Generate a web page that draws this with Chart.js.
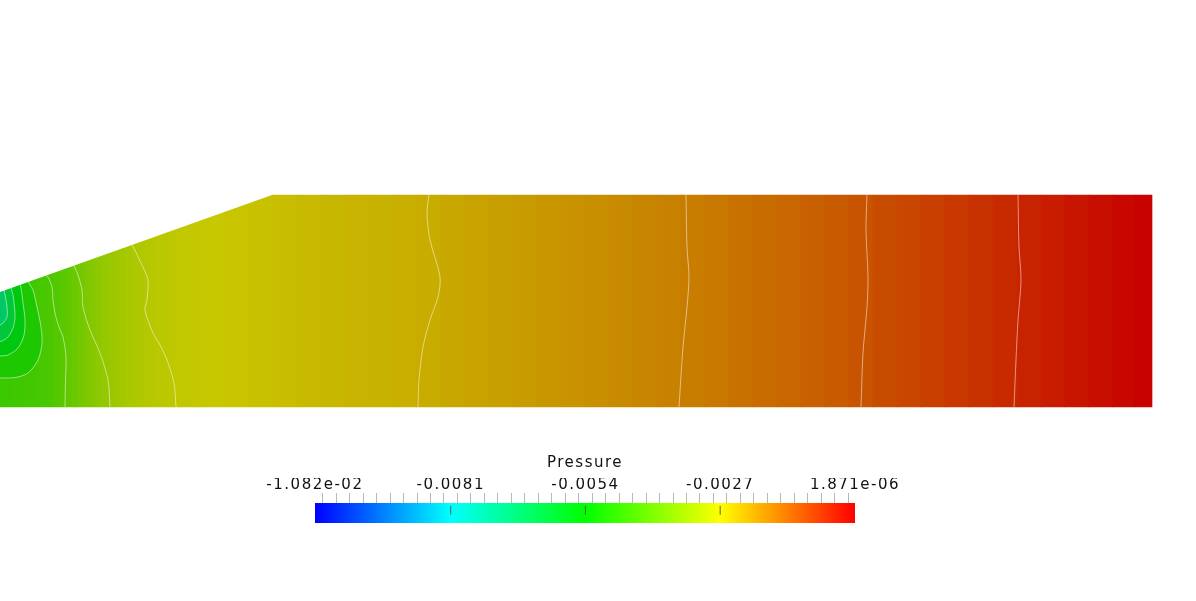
<!DOCTYPE html>
<html>
<head>
<meta charset="utf-8">
<script src="https://cdn.jsdelivr.net/npm/chart.js@4.4.1/dist/chart.umd.min.js"></script>
<style>
html,body{margin:0;padding:0;background:#fff;overflow:hidden;}
#wrap{position:relative;width:1196px;height:601px;background:#fff;}
#field{position:absolute;left:0;top:0;}
#cbar{position:absolute;left:200px;top:440px;}
</style>
</head>
<body>
<div id="wrap">
<canvas id="field" width="1196" height="601"></canvas>
<canvas id="cbar" width="800" height="100"></canvas>
</div>
<script>
// ---------- data ----------
const pressureRange = [-0.01082, 0.000001871];

// geometry of the channel (x along flow, y up from the bottom wall)
const wallX = [0, 272, 1152];
const wallTopY = [115, 212, 212];
const channelBottomY = 0;

// pressure along the channel (column stations)
const stripX = [3, 9, 15, 21, 27, 33, 39, 45, 51, 57, 63, 69, 75, 81, 87, 93, 99, 105, 111, 117,
  123, 129, 135, 141, 147, 153, 159, 165, 171, 177, 183, 189, 195, 201,
  213, 237, 261, 285, 309, 333, 357, 381, 405, 429, 453, 477, 501, 525, 549, 573, 597, 621, 645, 669,
  693, 717, 741, 765, 789, 813, 837, 861, 885, 909, 933, 957, 981, 1005, 1029, 1053, 1077, 1101, 1125, 1143];
const stripP = [-0.00462, -0.00460, -0.00458, -0.00456, -0.00453, -0.00450, -0.00447, -0.00443, -0.00437, -0.00429,
  -0.00420, -0.00409, -0.00397, -0.00385, -0.00372, -0.00360, -0.00349, -0.00340, -0.00332, -0.00325,
  -0.00319, -0.00313, -0.00308, -0.00303, -0.00299, -0.00295, -0.00291, -0.00288, -0.00285, -0.00282,
  -0.00280, -0.00278, -0.00276, -0.00274,
  -0.00271, -0.00265, -0.00261, -0.00256, -0.00252, -0.00248, -0.00244, -0.00241, -0.00237, -0.00232,
  -0.00227, -0.00221, -0.00215, -0.00209, -0.00204, -0.00198, -0.00193, -0.00187, -0.00181, -0.00175,
  -0.00168, -0.00161, -0.00153, -0.00146, -0.00138, -0.00129, -0.00121, -0.00112, -0.00103, -0.00094,
  -0.00085, -0.00075, -0.00066, -0.00056, -0.00047, -0.00037, -0.00028, -0.00019, -0.00010, -0.00003];

// iso-pressure contour levels and their traced paths [x, y]
const contourLevels = [-0.0005, -0.0011, -0.0017, -0.0023, -0.0029, -0.0035, -0.0041, -0.0047, -0.0053, -0.0059, -0.0065];
const contourPaths = [
  [[1018,212],[1019,160],[1021,127],[1018,87],[1016,47],[1014,0]],
  [[867,212],[866,177],[868,130],[867,100],[863,54],[861,0]],
  [[686,212],[687,160],[689,130],[687,100],[683,60],[679,0]],
  [[429,212],[427,194],[430,167],[440,130],[438,110],[430,87],[423,60],[419,27],[418,0]],
  [[132,162.5],[143,140],[148,127],[147,107],[145,97],[153,74],[160,62],[167,47],[174,24],[176,0]],
  [[74,141.5],[78,132],[82,117],[83,100],[90,77],[100,54],[108,27],[110,0]],
  [[46,131.5],[48,130],[52,120],[53,107],[55,94],[59,80],[63,70],[66,50],[65.5,27],[65,0]],
  [[28,126],[30,122],[33,117],[37,100],[41,80],[42,64],[38,47],[28,34],[15,29.5],[0,29]],
  [[20,123],[21,119],[23,104],[25,87],[24,72],[18,59],[8,52],[0,51]],
  [[11,119.5],[13,112],[14,104],[15,90],[13,79],[8,70],[2,66],[0,65.5]],
  [[4,117],[6,107],[7,100],[7,90],[3,84],[0,82]]
];
// pressure inside the closed low-pressure cores (inside levels 7..10)
const coreLevelIndex = [7, 8, 9, 10];
const coreP = [-0.0050, -0.0056, -0.0062, -0.0068];

// colour bar ticks
const cbarTickValues = [-0.010822, -0.0081, -0.0054, -0.0027, 0.000001871];
const cbarTickLabels = ['-1.082e-02', '-0.0081', '-0.0054', '-0.0027', '1.871e-06'];
const cbarMinorTicks = [-0.01053, -0.01026, -0.00999, -0.00972, -0.00945, -0.00918, -0.00891, -0.00864, -0.00837,
  -0.00783, -0.00756, -0.00729, -0.00702, -0.00675, -0.00648, -0.00621, -0.00594, -0.00567,
  -0.00513, -0.00486, -0.00459, -0.00432, -0.00405, -0.00378, -0.00351, -0.00324, -0.00297,
  -0.00243, -0.00216, -0.00189, -0.00162, -0.00135, -0.00108, -0.00081, -0.00054, -0.00027];

// ---------- styling ----------
const cmapStops = [0, 0.25, 0.5, 0.75, 1];
const cmapColors = [[0,0,255],[0,255,255],[0,255,0],[255,255,0],[255,0,0]];
const SHADE = 0.784;

function rgbAt(t) {
  t = Math.max(0, Math.min(1, t));
  for (let i = 1; i < cmapStops.length; i++) {
    if (t <= cmapStops[i]) {
      const f = (t - cmapStops[i-1]) / (cmapStops[i] - cmapStops[i-1]);
      const a = cmapColors[i-1], b = cmapColors[i];
      return [0,1,2].map(k => a[k] + (b[k] - a[k]) * f);
    }
  }
  return cmapColors[cmapColors.length - 1];
}
function fieldColor(p) {
  const t = (p - pressureRange[0]) / (pressureRange[1] - pressureRange[0]);
  const c = rgbAt(t).map(v => Math.round(v * SHADE));
  return 'rgb(' + c.join(',') + ')';
}
const toPts = arr => arr.map(([x, y]) => ({x, y}));

Chart.defaults.font.family = 'DejaVu Sans';

// ---------- field chart ----------
const datasets = [];
contourPaths.forEach((path, i) => {
  datasets.push({
    type: 'line', label: 'p = ' + contourLevels[i], data: toPts(path),
    borderColor: 'rgba(255,255,255,0.5)', borderWidth: 1, pointRadius: 0,
    tension: 0.3, fill: false, order: 0
  });
});
datasets.push({
  type: 'line', label: 'wall', data: [{x: wallX[0], y: wallTopY[0]}, {x: wallX[1], y: wallTopY[1]}],
  borderWidth: 0, borderColor: 'rgba(0,0,0,0)', pointRadius: 0, fill: 'end',
  backgroundColor: '#ffffff', order: 1
});
coreLevelIndex.forEach((li, k) => {
  datasets.push({
    type: 'line', indexAxis: 'y', label: 'core ' + k, data: toPts(contourPaths[li]),
    borderWidth: 0, borderColor: 'rgba(0,0,0,0)', pointRadius: 0, tension: 0.3,
    fill: {value: 0}, backgroundColor: fieldColor(coreP[k]), order: 2 + (coreLevelIndex.length - 1 - k)
  });
});
datasets.push({
  type: 'bar', label: 'Pressure',
  data: stripX.map(x => ({x, y: [channelBottomY, Math.max(...wallTopY)]})),
  backgroundColor: stripP.map(fieldColor),
  barThickness: 'flex', categoryPercentage: 1, barPercentage: 1,
  borderWidth: 0, order: 10
});

new Chart(document.getElementById('field'), {
  type: 'bar',
  data: {datasets},
  options: {
    responsive: false, animation: false, events: [], devicePixelRatio: 1,
    layout: {padding: 0},
    plugins: {legend: {display: false}, tooltip: {enabled: false}},
    scales: {
      x: {type: 'linear', min: 0, max: 1196, display: false, offset: false},
      y: {type: 'linear', min: -194, max: 407, display: false}
    }
  }
});

// ---------- colour bar ----------
function cbarGradient(ctx) {
  const chart = ctx.chart;
  if (!chart.chartArea) return null;
  const xs = chart.scales.x;
  const g = chart.ctx.createLinearGradient(xs.getPixelForValue(pressureRange[0]), 0, xs.getPixelForValue(pressureRange[1]), 0);
  cmapStops.forEach((s, i) => g.addColorStop(s, 'rgb(' + cmapColors[i].join(',') + ')'));
  return g;
}

new Chart(document.getElementById('cbar'), {
  type: 'bar',
  data: {datasets: [
    {type: 'scatter', data: cbarTickValues.slice(1, 4).map(v => ({x: v, y: 0.77})),
     pointStyle: 'line', rotation: 90, pointRadius: 4.5, borderColor: '#5a5a5a', borderWidth: 1, order: 0},
    {type: 'bar', indexAxis: 'y', data: [{y: 0.5, x: [pressureRange[0], pressureRange[1]]}],
     backgroundColor: cbarGradient, barThickness: 'flex', categoryPercentage: 1, barPercentage: 1,
     borderWidth: 0, order: 1}
  ]},
  options: {
    responsive: false, animation: false, events: [], devicePixelRatio: 1,
    layout: {padding: {left: 115, right: 145, top: 15.5, bottom: 17}},
    plugins: {
      legend: {display: false}, tooltip: {enabled: false},
      title: {display: true, text: 'Pressure', color: '#111',
              font: {family: 'DejaVu Sans', size: 15, lineHeight: 1, weight: 'normal'},
              padding: {top: 0, bottom: 7.5}}
    },
    scales: {
      x: {
        type: 'linear', position: 'top', min: pressureRange[0], max: pressureRange[1], offset: false,
        afterBuildTicks: s => {
          s.ticks = cbarTickValues.concat(cbarMinorTicks).sort((a, b) => a - b).map(v => ({value: v}));
        },
        ticks: {
          autoSkip: false, maxRotation: 0, minRotation: 0, padding: 0, color: '#111',
          font: {family: 'DejaVu Sans', size: 15, lineHeight: 1},
          callback: v => {
            const i = cbarTickValues.findIndex(t => Math.abs(t - v) < 1e-12);
            return i >= 0 ? cbarTickLabels[i] : '';
          }
        },
        grid: {drawOnChartArea: false, drawTicks: true, tickLength: 10, color: '#b8b8b8', lineWidth: 1},
        border: {display: false}
      },
      y: {type: 'linear', min: 0, max: 1, display: false}
    }
  },
  plugins: [{id: 'spacing', beforeDraw(c) { c.ctx.letterSpacing = '1.5px'; }}]
});
</script>
</body>
</html>
